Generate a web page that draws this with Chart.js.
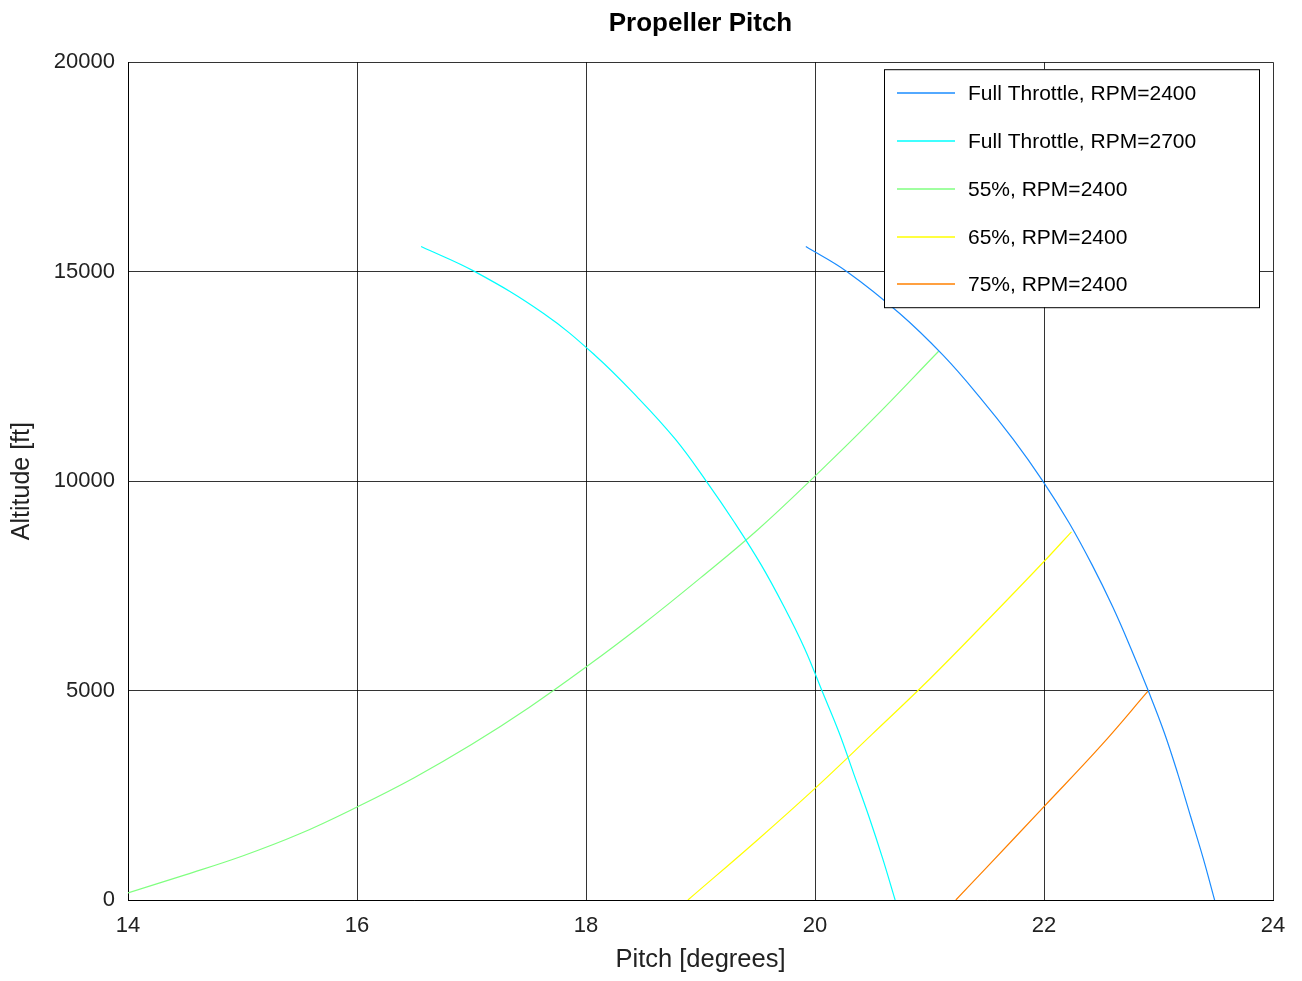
<!DOCTYPE html>
<html>
<head>
<meta charset="utf-8">
<script src="https://cdn.jsdelivr.net/npm/chart.js@4/dist/chart.umd.min.js"></script>
<style>
  body { margin: 0; background: #fff; }
  #wrap { width: 1302px; height: 981px; }
</style>
</head>
<body>
<div id="wrap"><canvas id="chart-pitch"></canvas></div>
<script>
// pitch [deg] / altitude [ft]
const ft2400Pitch = [19.92, 20.28, 20.74, 21.12, 21.44, 21.73, 21.99, 22.22, 22.42, 22.60, 22.76, 22.91, 23.05, 23.17, 23.28, 23.39, 23.49]
const ft2400Alt = [15600, 15000, 14000, 13000, 12000, 11000, 10000, 9000, 8000, 7000, 6000, 5000, 4000, 3000, 2000, 1000, 0]

const ft2700Pitch = [16.56, 17.03, 17.63, 18.08, 18.45, 18.78, 19.05, 19.30, 19.53, 19.73, 19.91, 20.06, 20.21, 20.34, 20.47, 20.59, 20.70]
const ft2700Alt = [15600, 15000, 14000, 13000, 12000, 11000, 10000, 9000, 8000, 7000, 6000, 5000, 4000, 3000, 2000, 1000, 0]

const p55Pitch = [14.0, 14.5, 15.0, 15.5, 16.0, 16.5, 17.0, 17.5, 18.0, 18.5, 19.0, 19.5, 20.0, 20.5, 21.08]
const p55Alt = [170, 600, 1050, 1580, 2220, 2920, 3710, 4590, 5560, 6590, 7690, 8840, 10120, 11460, 13100]

const p65Pitch = [18.89, 19.5, 20.0, 20.5, 21.0, 21.5, 22.0, 22.24]
const p65Alt = [0, 1440, 2665, 3960, 5270, 6660, 8080, 8790]

const p75Pitch = [21.23, 21.5, 22.0, 22.5, 22.91]
const p75Alt = [0, 780, 2230, 3690, 4990]

const seriesLabels = ['Full Throttle, RPM=2400', 'Full Throttle, RPM=2700', '55%, RPM=2400', '65%, RPM=2400', '75%, RPM=2400']
const seriesColors = ['#1a8cff', '#00ffff', '#80ff80', '#ffff00', '#ff8000']

const xTicks = [14, 16, 18, 20, 22, 24]
const yTicks = [0, 5000, 10000, 15000, 20000]

const FONT = '"Liberation Sans", Arial, sans-serif'

const pts = (xs, ys) => xs.map((x, i) => ({ x: x, y: ys[i] }))
const allSeries = [
  pts(ft2400Pitch, ft2400Alt),
  pts(ft2700Pitch, ft2700Alt),
  pts(p55Pitch, p55Alt),
  pts(p65Pitch, p65Alt),
  pts(p75Pitch, p75Alt),
]

// legend box drawn inside the plot, top right, like the original
const boxLegend = {
  id: 'boxLegend',
  afterDatasetsDraw(chart) {
    const { ctx, chartArea } = chart
    const left = chartArea.right - 389
    const top = chartArea.top + 7
    const w = 375, h = 238
    ctx.save()
    ctx.fillStyle = '#fff'
    ctx.fillRect(left, top, w, h)
    ctx.strokeStyle = '#000'
    ctx.lineWidth = 1
    ctx.strokeRect(left + 0.5, top + 0.5, w, h)
    ctx.font = '21px ' + FONT
    ctx.textBaseline = 'middle'
    ctx.fillStyle = '#000'
    chart.data.datasets.forEach((ds, i) => {
      const y = Math.round(top + 24 + i * 47.8)
      ctx.strokeStyle = seriesColors[i]
      ctx.lineWidth = 1.6
      ctx.beginPath()
      ctx.moveTo(left + 13, y)
      ctx.lineTo(left + 71, y)
      ctx.stroke()
      ctx.fillText(ds.label, left + 84, y + 1)
    })
    ctx.restore()
  }
}

new Chart(document.getElementById('chart-pitch'), {
  type: 'scatter',
  data: {
    datasets: allSeries.map((d, i) => ({
      label: seriesLabels[i],
      data: d,
      showLine: true,
      borderColor: seriesColors[i],
      backgroundColor: seriesColors[i],
      borderWidth: 1.2,
      pointRadius: 0,
      tension: 0.4,
    }))
  },
  options: {
    animation: false,
    responsive: true,
    maintainAspectRatio: false,
    layout: { padding: { top: 0, right: 29, bottom: 0, left: 0 } },
    plugins: {
      legend: { display: false },
      tooltip: { enabled: false },
      title: {
        display: true,
        fullSize: false,
        text: 'Propeller Pitch',
        color: '#000',
        font: { family: FONT, size: 26, weight: 'bold', lineHeight: 1.2 },
        padding: { top: 8, bottom: 23 },
      },
    },
    scales: {
      x: {
        type: 'linear',
        min: 14,
        max: 24,
        afterFit: s => { s.height = 81 },
        afterBuildTicks: s => { s.ticks = xTicks.map(v => ({ value: v })) },
        grid: { color: 'rgba(0,0,0,0.8)', lineWidth: 1, drawTicks: false },
        border: { color: '#000', width: 1 },
        ticks: { color: '#222', font: { family: FONT, size: 22 }, padding: 13 },
        title: {
          display: true,
          text: 'Pitch [degrees]',
          color: '#222',
          font: { family: FONT, size: 25.5, lineHeight: 1.2 },
          padding: { top: 0, bottom: 6 },
        },
      },
      y: {
        type: 'linear',
        min: 0,
        max: 20000,
        afterFit: s => { s.width = 128 },
        afterBuildTicks: s => { s.ticks = yTicks.map(v => ({ value: v })) },
        grid: { color: 'rgba(0,0,0,0.8)', lineWidth: 1, drawTicks: false },
        border: { color: '#000', width: 1 },
        ticks: {
          color: '#222',
          font: { family: FONT, size: 22 },
          padding: 13,
          callback: v => String(v),
        },
        title: {
          display: true,
          text: 'Altitude [ft]',
          color: '#222',
          font: { family: FONT, size: 25, lineHeight: 1.2 },
          padding: { top: 7, bottom: 0 },
        },
      },
    },
  },
  plugins: [boxLegend],
})
</script>
</body>
</html>
